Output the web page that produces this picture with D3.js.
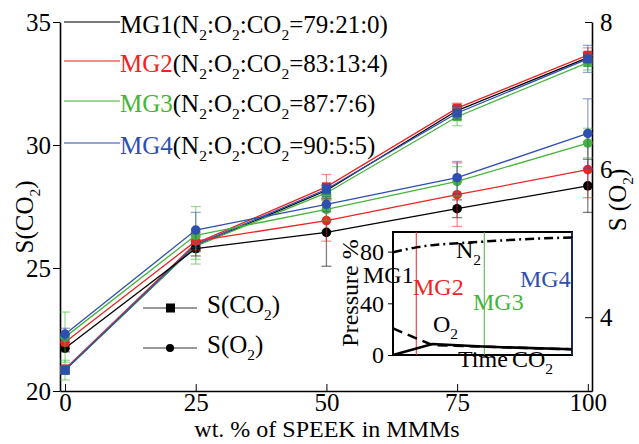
<!DOCTYPE html>
<html>
<head>
<meta charset="utf-8">
<script src="https://cdn.jsdelivr.net/npm/d3@7"></script>
<style>
body { margin: 0; background: #fff; }
svg { font-family: "Liberation Serif", "Times New Roman", serif; }
</style>
</head>
<body>
<div id="chart"></div>
<script>
// data
const groups = ["MG1", "MG2", "MG3", "MG4"];
const ratios = ["79:21:0", "83:13:4", "87:7:6", "90:5:5"];
const colors = ["#000000", "#ee2424", "#46b43c", "#2f4fae"];
const wtPct = [0, 25, 50, 75, 100];

const sCO2 = [
    [20.85, 25.9, 28.15, 31.4, 33.55],
    [20.9, 26.0, 28.3, 31.5, 33.65],
    [20.85, 25.9, 28.05, 31.15, 33.35],
    [20.85, 25.95, 28.2, 31.3, 33.5]
];
const errCO2 = [
    [0.1, 0.2, 0.2, 0.2, 0.2],
    [0.1, 0.3, 0.5, 0.2, 0.3],
    [0.4, 0.55, 0.3, 0.37, 0.3],
    [0.15, 0.3, 0.2, 0.25, 0.55]
];
const sO2 = [
    [3.58, 4.93, 5.15, 5.47, 5.78],
    [3.66, 5.03, 5.31, 5.66, 6.0],
    [3.73, 5.11, 5.46, 5.84, 6.36],
    [3.77, 5.18, 5.53, 5.89, 6.49]
];
const errO2 = [
    [0.05, 0.1, 0.46, 0.12, 0.36],
    [0.05, 0.12, 0.28, 0.43, 0.38],
    [0.34, 0.39, 0.15, 0.2, 0.2],
    [0.08, 0.24, 0.1, 0.22, 0.47]
];

const xTicks = [0, 25, 50, 75, 100];
const leftTicks = [20, 25, 30, 35];
const rightTicks = [4, 6, 8];

// inset: gas composition over time
const n2Time = [0, 13, 50, 76, 100];
const n2Val = [79.5, 83.3, 87.7, 89.8, 91];
const o2Time = [0, 13, 22, 50, 100];
const o2Val = [20.6, 12.9, 7.7, 6.5, 4.4];
const co2Time = [0, 22, 50, 100];
const co2Val = [0, 8.5, 6.5, 4.4];
const switchTime = [13, 51, 100];
const insetTicks = [0, 40, 80];

const W = 639, H = 444;
const FS = 25;

const svg = d3.select("#chart").append("svg")
    .attr("width", W).attr("height", H);

const xScale = d3.scaleLinear().domain([-0.96, 100.8]).range([60, 592]);
const yLeft = d3.scaleLinear().domain([20, 35]).range([391, 22]);
const yRight = d3.scaleLinear().domain([3, 8]).range([391, 22]);

// text with subscripts, "_2" marks a subscript 2
function richText(sel, str, color) {
    const parts = str.split(/(_\d)/).filter(s => s.length);
    let wasSub = false;
    parts.forEach(p => {
        const sub = p[0] === "_";
        const t = sel.append("tspan").text(sub ? p.slice(1) : p);
        if (color) t.attr("fill", color);
        if (sub) {
            t.attr("font-size", FS * 0.62).attr("dy", 7);
        } else if (wasSub) {
            t.attr("dy", -7);
        }
        wasSub = sub;
    });
}

function styleAxis(g, size) {
    g.attr("font-family", null).attr("font-size", null);
    g.selectAll("text").attr("font-size", size);
}

// axes
svg.append("g")
    .attr("transform", "translate(0,391)")
    .call(d3.axisBottom(xScale).tickValues(xTicks).tickSizeInner(-7).tickSizeOuter(0).tickPadding(2))
    .call(g => styleAxis(g, FS));

svg.append("g")
    .attr("transform", "translate(60,0)")
    .call(d3.axisLeft(yLeft).tickValues(leftTicks).tickSizeInner(7).tickSizeOuter(0).tickPadding(2))
    .call(g => styleAxis(g, FS));

svg.append("g")
    .attr("transform", "translate(592,0)")
    .call(d3.axisRight(yRight).tickValues(rightTicks).tickFormat(d3.format("d"))
        .tickSizeInner(-7).tickSizeOuter(0).tickPadding(8))
    .call(g => styleAxis(g, FS));

svg.selectAll(".domain").attr("stroke-width", 1.6);

// axis titles
richText(svg.append("text")
    .attr("transform", "translate(33,217) rotate(-90)")
    .attr("text-anchor", "middle").attr("font-size", FS), "S(CO_2)");

richText(svg.append("text")
    .attr("transform", "translate(626,200) rotate(-90)")
    .attr("text-anchor", "middle").attr("font-size", FS), "S (O_2)");

svg.append("text")
    .attr("x", 327).attr("y", 437)
    .attr("text-anchor", "middle").attr("font-size", 24)
    .text("wt. % of SPEEK in MMMs");

// series
function drawSeries(vals, errs, yScale, shape) {
    vals.forEach((series, i) => {
        const c = colors[i];
        const pts = series.map((v, j) => ({x: wtPct[j], y: v, e: errs[i][j]}));
        const g = svg.append("g");

        g.append("path")
            .datum(pts)
            .attr("fill", "none")
            .attr("stroke", c)
            .attr("stroke-width", 1.3)
            .attr("d", d3.line().x(d => xScale(d.x)).y(d => yScale(d.y)));

        const eb = g.selectAll(".eb").data(pts).enter().append("g")
            .attr("stroke", c).attr("stroke-opacity", 0.5).attr("stroke-width", 1.3);
        eb.append("line")
            .attr("x1", d => xScale(d.x)).attr("x2", d => xScale(d.x))
            .attr("y1", d => yScale(d.y - d.e)).attr("y2", d => yScale(d.y + d.e));
        eb.append("line")
            .attr("x1", d => xScale(d.x) - 5).attr("x2", d => xScale(d.x) + 5)
            .attr("y1", d => yScale(d.y - d.e)).attr("y2", d => yScale(d.y - d.e));
        eb.append("line")
            .attr("x1", d => xScale(d.x) - 5).attr("x2", d => xScale(d.x) + 5)
            .attr("y1", d => yScale(d.y + d.e)).attr("y2", d => yScale(d.y + d.e));

        if (shape === "square") {
            g.selectAll(".m").data(pts).enter().append("rect")
                .attr("x", d => xScale(d.x) - 4.5).attr("y", d => yScale(d.y) - 4.5)
                .attr("width", 9).attr("height", 9).attr("fill", c);
        } else {
            g.selectAll(".m").data(pts).enter().append("circle")
                .attr("cx", d => xScale(d.x)).attr("cy", d => yScale(d.y))
                .attr("r", 4.8).attr("fill", c);
        }
    });
}

drawSeries(sCO2, errCO2, yLeft, "square");
drawSeries(sO2, errO2, yRight, "circle");

// group legend (top left)
groups.forEach((name, i) => {
    const ly = [22, 61, 101, 143][i];
    svg.append("line")
        .attr("x1", 64).attr("x2", 120).attr("y1", ly).attr("y2", ly)
        .attr("stroke", colors[i]).attr("stroke-opacity", 0.7).attr("stroke-width", 1.3);
    const t = svg.append("text").attr("x", 120).attr("y", ly + 11).attr("font-size", FS);
    t.append("tspan").attr("fill", colors[i]).text(name);
    richText(t, `(N_2:O_2:CO_2=${ratios[i]})`, "#000");
});

// marker legend
[["S(CO_2)", "square", 308], ["S(O_2)", "circle", 348]].forEach(([lab, shape, ly]) => {
    svg.append("line")
        .attr("x1", 143).attr("x2", 197).attr("y1", ly).attr("y2", ly)
        .attr("stroke", "#333").attr("stroke-width", 1.2);
    if (shape === "square") {
        svg.append("rect").attr("x", 166).attr("y", ly - 4.5).attr("width", 9).attr("height", 9);
    } else {
        svg.append("circle").attr("cx", 170).attr("cy", ly).attr("r", 4);
    }
    richText(svg.append("text").attr("x", 207).attr("y", ly + 5).attr("font-size", FS), lab);
});

// inset
const ix = d3.scaleLinear().domain([0, 100]).range([393, 572]);
const iy = d3.scaleLinear().domain([0, 95.2]).range([355, 232]);

svg.append("rect")
    .attr("x", 393).attr("y", 232).attr("width", 179).attr("height", 123)
    .attr("fill", "#fff").attr("stroke", "#000").attr("stroke-width", 2);

svg.append("g")
    .attr("transform", "translate(393,0)")
    .call(d3.axisLeft(iy).tickValues(insetTicks).tickSizeInner(5).tickSizeOuter(0).tickPadding(4))
    .call(g => g.select(".domain").remove())
    .call(g => styleAxis(g, 24));

switchTime.forEach((t, i) => {
    svg.append("line")
        .attr("x1", ix(t)).attr("x2", ix(t)).attr("y1", 232).attr("y2", 355)
        .attr("stroke", colors[i + 1]).attr("stroke-width", 1);
});

const iline = d3.line().x(d => ix(d[0])).y(d => iy(d[1]));
svg.append("path")
    .datum(d3.zip(n2Time, n2Val))
    .attr("fill", "none").attr("stroke", "#000").attr("stroke-width", 2.5)
    .attr("stroke-dasharray", "9,4,2,4")
    .attr("d", iline.curve(d3.curveMonotoneX));
svg.append("path")
    .datum(d3.zip(o2Time, o2Val))
    .attr("fill", "none").attr("stroke", "#000").attr("stroke-width", 2.5)
    .attr("stroke-dasharray", "10,6")
    .attr("d", iline.curve(d3.curveLinear));
svg.append("path")
    .datum(d3.zip(co2Time, co2Val))
    .attr("fill", "none").attr("stroke", "#000").attr("stroke-width", 2.5)
    .attr("d", iline.curve(d3.curveLinear));

const insetFs = 24;
[["MG1", 363, 283, colors[0]], ["MG2", 413, 295, colors[1]],
 ["MG3", 473, 310, colors[2]], ["MG4", 520, 287, colors[3]]].forEach(([t, x, y, c]) => {
    svg.append("text").attr("x", x).attr("y", y).attr("font-size", insetFs).attr("fill", c).text(t);
});

svg.append("text").attr("x", 458).attr("y", 367).attr("font-size", insetFs).text("Time");
[["N_2", 456, 258], ["O_2", 433, 332], ["CO_2", 512, 367]].forEach(([t, x, y]) => {
    richText(svg.append("text").attr("x", x).attr("y", y).attr("font-size", insetFs), t);
});

svg.append("text")
    .attr("transform", "translate(358,293) rotate(-90)")
    .attr("text-anchor", "middle").attr("font-size", insetFs)
    .text("Pressure %");
</script>
</body>
</html>
